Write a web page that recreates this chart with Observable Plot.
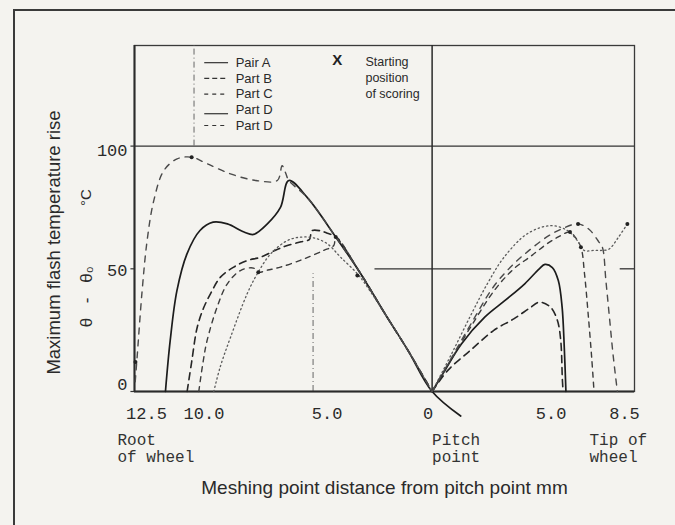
<!DOCTYPE html>
<html><head><meta charset="utf-8">
<script src="https://cdn.jsdelivr.net/npm/d3@7"></script>
<script src="https://cdn.jsdelivr.net/npm/@observablehq/plot@0.6"></script>
<style>
html,body{margin:0;padding:0;background:#f4f3ef;}
#wrap{position:relative;width:675px;height:525px;overflow:hidden;background:#f4f3ef;}
#border{position:absolute;left:13px;top:9px;width:700px;height:600px;border-left:2px solid #3a3a3a;border-top:2px solid #3a3a3a;pointer-events:none;}
</style></head>
<body><div id="wrap"><div id="border"></div></div>
<script>
// ---------- data ----------
// x < 0 : toward root of wheel, x > 0 : toward tip of wheel (mm); y : flash temperature rise (°C)
const xTicks = [-12.5, -10, -5, 0, 5, 8.5];
const xTickLabels = ["12.5", "10.0", "5.0", "0", "5.0", "8.5"];
const yTicks = [0, 50, 100];
const yTickLabels = ["0", "50", "100"];

const legendNames = ["Pair A", "Part B", "Part C", "Part D", "Part D"];
const scoringNote = ["Starting", "position", "of scoring"];
const unitParts = ["θ", "-", "θ₀", "°C"];

// common descending branch (root side -> pitch point)
const descent = [[-6.02,86],[-5.24,79],[-4.05,63],[-3.0,48],[-2.0,32],[-1.0,16.5],[0,0]];
const pairATail = [[0,0],[1.2,-10]];

const pairA_left = [[-11.2,0],[-11.0,20.8],[-10.72,41],[-10.3,56],[-9.75,65.6],[-9.2,69],[-8.6,68.3],[-7.9,65],[-7.5,64],[-6.92,68.3],[-6.37,75],[-6.02,86]];
const pairA_right = [[0,0],[0.5,8],[1.23,19.4],[2.21,30.3],[3.05,37],[3.89,43.9],[4.5,50],[4.74,51.8],[5.05,50.5],[5.3,45.2],[5.46,34.4],[5.55,18],[5.62,0]];

const partB_left = [[-10.29,0],[-10.1,12],[-9.87,26],[-9.6,34],[-9.31,39.8],[-8.89,46.6],[-8.33,50.7],[-7.76,53.4],[-7.21,54.7],[-6.6,57.5],[-6.08,59.5],[-5.5,61],[-5.15,62],[-5.05,65.5],[-4.7,65.5],[-4.4,64.5],[-4.05,63]];
const partB_right = [[0,0],[0.66,8.6],[1.6,16.7],[2.59,24.9],[3.43,29.6],[4.1,34],[4.5,36.4],[4.97,34.4],[5.26,29],[5.4,21],[5.47,5],[5.5,0]];

const partC_left = [[-9.8,0],[-9.62,12],[-9.45,20.8],[-9.03,34.4],[-8.6,43.9],[-8.05,49.3],[-7.5,50.3],[-7.3,48.6],[-6.9,49.5],[-6.37,50.7],[-5.39,54],[-4.55,57.5],[-4.13,59.5],[-4.05,63]];
const partC_right = [[0,0],[0.8,13],[1.6,26],[2.6,41],[3.43,50],[4.13,55],[4.8,60],[5.3,63],[5.79,65],[6.0,63],[6.25,58.8],[6.4,48],[6.55,32],[6.7,14],[6.8,0]];

const partD_left = [[-9.17,0],[-8.9,10],[-8.47,22],[-7.77,39.8],[-7.34,48],[-6.79,56],[-6.08,61.5],[-5.53,62.9],[-4.97,62.6],[-4.4,60.2],[-3.84,54.7],[-3.14,48],[-2.86,44.5]];
const partD_right = [[0,0],[0.8,15],[1.62,31],[2.32,43.9],[3.02,54.7],[4.0,64.3],[4.98,67.6],[5.68,65.6],[6.1,61.5],[6.38,57.5],[6.8,57.5],[7.15,57.5],[7.43,58],[7.8,62.5],[8.2,68.3]];

const partD2_left = [[-12.47,4],[-12.39,14],[-12.18,41],[-11.97,61.5],[-11.69,77.8],[-11.27,90],[-10.71,94.8],[-10.1,95.5],[-9.45,92.8],[-8.47,88.7],[-7.4,86],[-6.5,86],[-6.3,92],[-6.15,89],[-6.02,86]];
const partD2_right = [[0,0],[0.8,13.5],[1.6,27],[2.6,43],[3.43,52],[4.2,58.5],[4.9,63.5],[5.5,66.5],[6.13,68.3],[6.6,66],[7.0,61],[7.15,58.8],[7.3,45],[7.45,30],[7.6,15],[7.78,0]];

// starting positions of scoring
const scoringX = [-10.1, -4.05, -7.3, -3.14, 5.79, 6.13, 6.25, 8.2, -12.46];
const scoringY = [95.5, 63, 48.6, 47.3, 65, 68.3, 58.8, 68.3, 12];

// partial reference lines visible in the picture
const grid50 = [[-2.4, 2.5], [7.9, 8.5]];
const dashVerticals = [[-10, 100, 141], [-5, 0, 48]];

// ---------- layout nudges (pixels, typed labels of the original are slightly off their ticks) ----------
const xLabelNudge = [12, 10, 14, -4, 0, -10];
const yLabelNudge = [-7, 2, 4];
const unitOffsets = [104, 82, 56, -21];
const unitSizes = [17, 17, 17, 15];

// ---------- build ----------
const joinDescent = (pts) => {
  const lastX = pts[pts.length - 1][0];
  return pts.concat(descent.filter(d => d[0] > lastX));
};
const toRows = (pts) => pts.map(([x, y]) => ({x, y}));

const styles = [
  {stroke: "#1c1c1c", width: 1.7, dash: null},
  {stroke: "#262626", width: 1.6, dash: "7,5"},
  {stroke: "#3c3c3c", width: 1.4, dash: "5,5"},
  {stroke: "#5a5a5a", width: 1.3, dash: "1.3,3"},
  {stroke: "#4a4a4a", width: 1.4, dash: "6,6"}
];
const curves = [
  [pairA_left.concat(descent.slice(1), pairATail.slice(1)), pairA_right],
  [joinDescent(partB_left), partB_right],
  [joinDescent(partC_left), partC_right],
  [joinDescent(partD_left), partD_right],
  [joinDescent(partD2_left), partD2_right]
];

const lineMarks = [];
curves.forEach((pair, i) => {
  const s = styles[i];
  pair.forEach(pts => {
    lineMarks.push(Plot.line(toRows(pts), {
      x: "x", y: "y", curve: "catmull-rom",
      stroke: s.stroke, strokeWidth: s.width,
      strokeDasharray: s.dash || undefined, strokeLinejoin: "round"
    }));
  });
});

// legend layout (data units)
const L = {x1: -9.55, x2: -8.55, xt: -8.25, top: 134, step: 6.4};
const legendDash = [null, "5,3", "4,4", null, "4,4"];
const narrow = "Liberation Sans Narrow, Liberation Sans, Arial, sans-serif";
const legendMarks = legendNames.flatMap((name, i) => {
  const y = L.top - i * L.step;
  const lineY = i === 3 ? y - 1.6 : y;
  return [
    Plot.ruleY([lineY], {x1: L.x1, x2: L.x2, stroke: "#333", strokeWidth: 1.2, strokeDasharray: legendDash[i] || undefined}),
    Plot.text([name], {x: L.xt, y, text: d => d, textAnchor: "start", fontSize: 13, fill: "#2a2a2a", fontFamily: narrow})
  ];
});

const mono = "Liberation Mono, DejaVu Sans Mono, monospace";
const sans = "Liberation Sans, Arial, Helvetica, sans-serif";

const chart = Plot.plot({
  width: 675, height: 525,
  marginLeft: 134, marginRight: 41, marginTop: 45, marginBottom: 134,
  x: {type: "linear", domain: [-12.5, 8.5], axis: null},
  y: {type: "linear", domain: [0, 141], axis: null},
  style: {background: "transparent", fontFamily: sans, color: "#2a2a2a", overflow: "visible"},
  marks: [
    Plot.frame({stroke: "#3a3a3a", strokeWidth: 1.3}),
    Plot.ruleY([100], {stroke: "#333", strokeWidth: 1.4}),
    Plot.ruleY(grid50, {y: 50, x1: d => d[0], x2: d => d[1], stroke: "#333", strokeWidth: 1.3}),
    Plot.ruleX(dashVerticals, {x: d => d[0], y1: d => d[1], y2: d => d[2], stroke: "#666", strokeWidth: 1, strokeDasharray: "6,3,1,3"}),
    Plot.ruleX([0], {stroke: "#2a2a2a", strokeWidth: 1.5}),
    Plot.ruleY([0], {stroke: "#2a2a2a", strokeWidth: 2}),
    Plot.ruleX([-12.5], {stroke: "#2a2a2a", strokeWidth: 2}),
    Plot.ruleY(yTicks, {x1: -12.5, x2: -12.65, stroke: "#333", strokeWidth: 1.2}),
    ...lineMarks,
    Plot.dot(scoringX.map((x, i) => ({x, y: scoringY[i]})), {x: "x", y: "y", r: 2, fill: "#222", stroke: "none"}),
    // tick labels (one text mark per label so each can take its nudge)
    ...xTicks.map((v, i) => Plot.text([v], {x: d => d, y: 0, text: () => xTickLabels[i], dy: 22, dx: xLabelNudge[i], fontSize: 17, fontFamily: mono, fill: "#2a2a2a"})),
    ...yTicks.map((v, i) => Plot.text([v], {x: -12.5, y: d => d, text: () => yTickLabels[i], dx: -7, dy: yLabelNudge[i], textAnchor: "end", fontSize: 17, fontFamily: mono, fill: "#2a2a2a"})),
    // annotations under axis
    Plot.text(["Root\nof wheel"], {x: -12.5, y: 0, text: d => d, dx: -17, dy: 57, textAnchor: "start", fontSize: 16, fontFamily: mono, fill: "#333", lineHeight: 1.05}),
    Plot.text(["Pitch\npoint"], {x: 0, y: 0, text: d => d, dx: 0, dy: 57, textAnchor: "start", fontSize: 16, fontFamily: mono, fill: "#333", lineHeight: 1.05}),
    Plot.text(["Tip of\nwheel"], {x: 8.5, y: 0, text: d => d, dx: -45, dy: 57, textAnchor: "start", fontSize: 16, fontFamily: mono, fill: "#333", lineHeight: 1.05}),
    // axis titles
    Plot.text(["Meshing point distance from pitch point mm"], {frameAnchor: "bottom", text: d => d, dy: 102, textAnchor: "middle", fontSize: 19, fontFamily: sans, fill: "#2a2a2a"}),
    Plot.text(["Maximum flash temperature rise"], {frameAnchor: "left", text: d => d, dx: -80, dy: 24, rotate: -90, textAnchor: "middle", fontSize: 18.5, fontFamily: sans, fill: "#2a2a2a"}),
    ...unitParts.map((t, i) => Plot.text([t], {frameAnchor: "left", text: d => d, dx: -48, dy: unitOffsets[i], rotate: -90, textAnchor: "middle", fontSize: unitSizes[i], fontFamily: sans, fill: "#2a2a2a"})),
    // legend
    ...legendMarks,
    Plot.text(["X"], {x: -3.98, y: 135, text: d => d, fontSize: 15, fontWeight: "bold", fill: "#222"}),
    Plot.text(scoringNote, {x: -2.8, y: (d, i) => 134.2 - i * 6.4, text: d => d, textAnchor: "start", fontSize: 12.5, fill: "#2a2a2a", fontFamily: narrow})
  ]
});
chart.style.position = "absolute";
chart.style.left = "0";
chart.style.top = "0";
document.getElementById("wrap").prepend(chart);
</script>
</body></html>
